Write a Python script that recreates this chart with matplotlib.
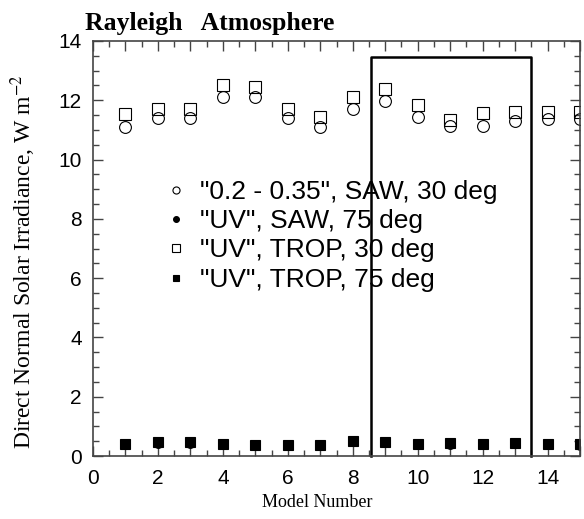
import numpy as np
import matplotlib
matplotlib.use('Agg')
import matplotlib.pyplot as plt
from matplotlib.ticker import MultipleLocator, FuncFormatter

models = [1, 2, 3, 4, 5, 6, 7, 8, 9, 10, 11, 12, 13, 14, 15]
saw_broad_30 = [11.1, 11.4, 11.4, 12.12, 12.12, 11.4, 11.1, 11.7, 11.96, 11.42, 11.12, 11.12, 11.31, 11.37, 11.37]
saw_uv_75 = [0.41, 0.45, 0.45, 0.41, 0.36, 0.37, 0.37, 0.5, 0.47, 0.41, 0.42, 0.41, 0.44, 0.4, 0.38]
trop_uv_30 = [11.55, 11.7, 11.7, 12.52, 12.46, 11.7, 11.45, 12.12, 12.38, 11.84, 11.33, 11.57, 11.59, 11.62, 11.62]
trop_uv_75 = [0.42, 0.46, 0.46, 0.42, 0.37, 0.38, 0.38, 0.51, 0.48, 0.42, 0.43, 0.42, 0.45, 0.41, 0.39]
labels = ['"0.2 - 0.35", SAW, 30 deg', '"UV", SAW, 75 deg',
          '"UV", TROP, 30 deg', '"UV", TROP, 75 deg']

box_x = [8.55, 8.55, 13.5, 13.5]
box_y = [0, 13.45, 13.45, 0]

plt.rcParams['font.family'] = ['Liberation Sans', 'DejaVu Sans']
plt.rcParams['mathtext.fontset'] = 'stix'
fig = plt.figure(figsize=(5.84, 5.19), dpi=100)
ax = fig.add_axes([93/584, 63/519, 487/584, 415/519])

ax.plot(models, saw_broad_30, 'o', ms=8.5, mfc='none', mec='black', mew=0.8, label=labels[0])
ax.plot(models, saw_uv_75, 'o', ms=7, mfc='black', mec='black', mew=0.8, label=labels[1])
ax.plot(models, trop_uv_30, 's', ms=8.5, mfc='none', mec='black', mew=0.8, label=labels[2])
ax.plot(models, trop_uv_75, 's', ms=7, mfc='black', mec='black', mew=0.8, label=labels[3])
ax.plot(box_x, box_y, '-', color='black', lw=1.8, clip_on=False)

ax.set_xlim(0, 15)
ax.set_ylim(0, 14)
ax.xaxis.set_major_locator(MultipleLocator(1))
ax.xaxis.set_minor_locator(MultipleLocator(0.5))
ax.xaxis.set_major_formatter(FuncFormatter(lambda v, p: '%d' % v if int(round(v)) % 2 == 0 else ''))
ax.yaxis.set_major_locator(MultipleLocator(2))
ax.yaxis.set_minor_locator(MultipleLocator(0.5))
ax.tick_params(which='both', direction='in', top=True, right=True, color='#444444', labelsize=15)
ax.tick_params(which='major', length=7, width=1)
ax.tick_params(which='minor', length=4, width=1)
ax.tick_params(axis='x', which='major', pad=9)
ax.tick_params(axis='y', which='major', pad=8)
for s in ax.spines.values():
    s.set_color('#444444')
    s.set_linewidth(1.2)

ax.set_xlabel('Model Number', family='Liberation Serif', fontsize=13)
ax.xaxis.set_label_coords(0.46, -0.092)
ax.set_ylabel('Direct Normal Solar Irradiance, W m$^{-2}$', family='Liberation Serif', fontsize=17)
ax.yaxis.set_label_coords(-0.113, 0.467)
ax.text(-0.016, 1.014, 'Rayleigh   Atmosphere', transform=ax.transAxes, family='Liberation Serif',
        fontweight='bold', fontsize=18.5, ha='left', va='bottom')

ax.legend(loc='upper left', bbox_to_anchor=(0.122, 0.697), frameon=False, fontsize=19,
          markerscale=0.6, handlelength=0.8, handletextpad=0.5, labelspacing=0.2, borderpad=0)

fig.savefig('out.png', dpi=100)
